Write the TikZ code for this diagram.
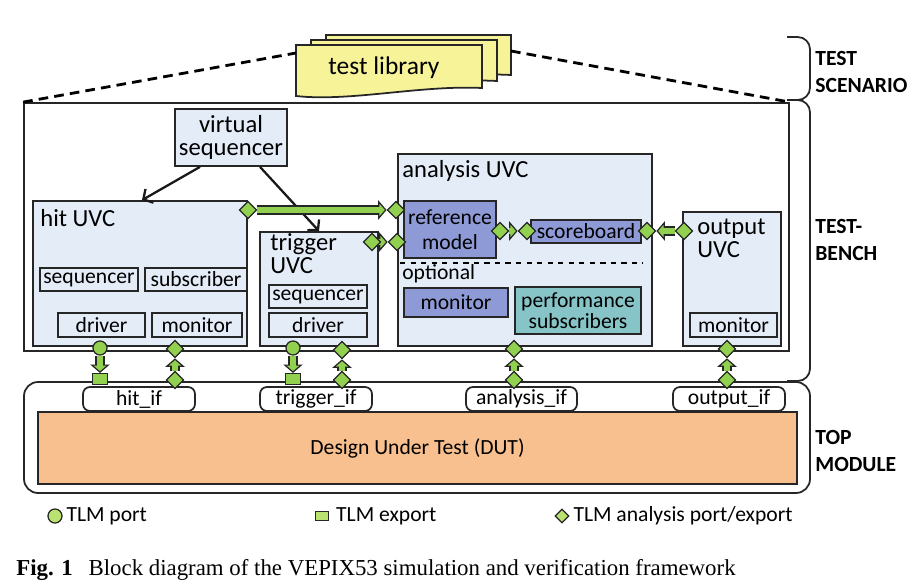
\documentclass[tikz,border=0pt]{standalone}
\usepackage{fontspec}
\setmainfont{Carlito}
\newfontfamily\capfont{Liberation Serif}
\usetikzlibrary{arrows.meta, positioning, shapes.geometric, fit, calc}
\definecolor{boxedge}{RGB}{38,38,38}
\definecolor{uvcblue}{RGB}{228,236,247}
\definecolor{refblue}{RGB}{142,154,214}
\definecolor{perfteal}{RGB}{134,196,200}
\definecolor{tlmgreen}{RGB}{146,208,80}
\definecolor{keygreen}{RGB}{186,226,112}
\definecolor{libyellow}{RGB}{247,243,152}
\definecolor{dutorange}{RGB}{248,192,142}
\pgfdeclarelayer{ports}
\pgfsetlayers{main,ports}
\newcommand{\fbig}{\fontsize{14}{13}\selectfont}
\newcommand{\fsmall}{\fontsize{12.3}{13.5}\selectfont}

\begin{document}
\begin{tikzpicture}[
  x=0.02cm, y=-0.02cm,
  uvc/.style={draw=boxedge, fill=uvcblue, line width=1pt, inner sep=0pt},
  part/.style={uvc},
  txt/.style={font=\fsmall, align=center, inner sep=0pt},
  title/.style={anchor=west, inner sep=0pt, font=\fbig, align=left},
  ifbox/.style={draw=boxedge, fill=white, line width=1pt, rounded corners=4pt, inner sep=0pt},
  libdoc/.style={draw=boxedge, fill=libyellow, line width=1pt},
  ctrl/.style={-{Straight Barb[length=4pt,width=9pt]}, line width=1.3pt, draw=black!90},
  tlm/.style={draw=tlmgreen, line width=3.8pt, shorten >=4pt,
              preaction={draw=boxedge, line width=5.3pt, shorten >=0pt,
                         -{Triangle[length=4.8pt,width=11pt,fill=tlmgreen,line width=0.7pt]}}},
  aport/.style={diamond, draw=boxedge, fill=tlmgreen, line width=0.7pt,
                minimum size=10pt, inner sep=0pt},
  port/.style={circle, draw=boxedge, fill=tlmgreen, line width=0.7pt,
               minimum size=8pt, inner sep=0pt},
  export/.style={rectangle, draw=boxedge, fill=tlmgreen, line width=0.7pt,
                 minimum width=8.5pt, minimum height=6.2pt, inner sep=0pt},
  side/.style={anchor=west, inner sep=0pt, align=left,
               font=\bfseries\fontsize{12.3}{15.3}\selectfont},
  bracket/.style={draw=boxedge, line width=1pt, rounded corners=7pt}
]
\useasboundingbox (0,0) rectangle (918,584);

% test scenario
\draw[libdoc] (326,35) -- (511,35) -- (511,75) .. controls (460,72) and (400,86) .. (326,82) -- cycle;
\draw[libdoc] (311,40) -- (497,40) -- (497,81) .. controls (446,78) and (386,92) .. (311,88) -- cycle;
\draw[libdoc] (296,45) -- (482,45) -- (482,88) .. controls (420,85) and (350,102) .. (296,96) -- cycle;
\node[font=\fontsize{14.5}{16}\selectfont] (testlib) at (384,68) {test library};
\coordinate (libL) at (296,53);
\coordinate (libR) at (511,51);

% testbench
\node[draw=boxedge, line width=1pt, inner sep=0pt, fit={(24,103) (789,351)}] (tb) {};
\draw[dash pattern=on 5.5pt off 3.5pt, line width=1.6pt] (tb.north west) -- (libL);
\draw[dash pattern=on 5.5pt off 3.5pt, line width=1.6pt] (libR) -- (tb.north east);

\node[uvc, fit={(175,109) (287,166)},
      label={[txt, font=\fbig]center:virtual\\sequencer}] (vseq) {};

% hit UVC
\node[uvc, fit={(33,201) (247,346)}] (hit) {};
\node[title] at (40,218) {hit UVC};
\node[part, fit={(40,268) (138,291)}, label={[txt]center:sequencer}] (hitseq) {};
\node[part, fit={(145,268) (247,291)}, label={[txt]center:subscriber}] (hitsub) {};
\node[part, fit={(58,313) (145,337)}, label={[txt]center:driver}] (hitdrv) {};
\node[part, fit={(152,313) (242,337)}, label={[txt]center:monitor}] (hitmon) {};

% trigger UVC
\node[uvc, fit={(260,232) (378,346)}] (trig) {};
\node[title] at (270,254) {trigger\\UVC};
\node[part, fit={(269,285) (367,308)}, label={[txt]center:sequencer}] (trigseq) {};
\node[part, fit={(269,313) (367,337)}, label={[txt]center:driver}] (trigdrv) {};

% analysis UVC
\node[uvc, fit={(398,154) (652,346)}] (ana) {};
\node[title] at (402,171) {analysis UVC};
\node[part, fill=refblue, fit={(404,201) (496,258)},
      label={[txt, font=\fontsize{12.3}{14.5}\selectfont]center:reference\\model}] (refm) {};
\node[part, fill=refblue, fit={(531,220) (641,243)}, label={[txt]center:scoreboard}] (score) {};
\draw[dashed, line width=0.8pt] (400,263) -- (643,263);
\node[title, font=\fsmall] at (402,274) {optional};
\node[part, fill=refblue, fit={(404,288) (508,317)}, label={[txt]center:monitor}] (anamon) {};
\node[part, fill=perfteal, fit={(515,287) (641,334)},
      label={[txt, font=\fontsize{12.3}{12.3}\selectfont]center:performance\\subscribers}] (perf) {};

% output UVC
\node[uvc, fit={(683,212) (781,346)}] (outp) {};
\node[title] at (697,238) {output\\UVC};
\node[part, fit={(690,313) (777,337)}, label={[txt]center:monitor}] (outmon) {};

% top module
\node[draw=boxedge, line width=1pt, rounded corners=8pt, inner sep=0pt, fit={(24,382) (810,493)}] (top) {};
\node[draw=boxedge, fill=dutorange, line width=1pt, inner sep=0pt, fit={(38,412) (797,484)},
      label={[txt]center:Design Under Test (DUT)}] (dut) {};
\node[ifbox, fit={(83,387) (195,411)}, label={[txt]center:hit\_if}] (hitif) {};
\node[ifbox, fit={(260,387) (372,411)}, label={[txt]center:trigger\_if}] (trigif) {};
\node[ifbox, fit={(466,387) (577,411)}, label={[txt]center:analysis\_if}] (anaif) {};
\node[ifbox, fit={(673,387) (785,411)}, label={[txt]center:output\_if}] (outif) {};

% brackets and side labels
\draw[bracket] (787,37) -- (810,37) -- (810,100) -- (787,100);
\draw[bracket] (787,100) -- (810,100) -- (810,381) -- (787,381);
\node[side] at (815,72) {TEST\\SCENARIO};
\node[side] at (815,240) {TEST-\\BENCH};
\node[side] at (815,451) {TOP\\MODULE};

% ports
\begin{pgfonlayer}{ports}
\node[aport] (hitap) at (248,210) {};
\node[aport] (refap) at (396,210) {};
\node[aport] (trigap) at (372,242) {};
\node[aport] (refap2) at (397,242) {};
\node[aport] (refout) at (500,231) {};
\node[aport] (scorein) at (527,231) {};
\node[aport] (scorein2) at (647,231) {};
\node[aport] (outap) at (684,231) {};
\node[port] (hitdrvp) at (100,348) {};
\node[export] (hitifex) at (100,379) {};
\node[aport] (hitmonap) at (175,349) {};
\node[aport] (hitifap) at (175,380) {};
\node[port] (trigdrvp) at (293,348) {};
\node[export] (trigifex) at (293,379) {};
\node[aport] (trigmonap) at (342,350) {};
\node[aport] (trigifap) at (342,380) {};
\node[aport] (anaap) at (514,349) {};
\node[aport] (anaifap) at (514,380) {};
\node[aport] (outmonap) at (727,349) {};
\node[aport] (outifap) at (727,380) {};
\end{pgfonlayer}

% control arrows
\draw[ctrl] ([shift={(-31,0)}]vseq.south) -- ([shift={(2,0)}]hit.north);
\draw[ctrl] ([shift={(29,0)}]vseq.south) -- (trig.north);

% TLM connections
\draw[tlm] (hitap) -- (refap);
\draw[tlm] (trigap.center) -- (refap2);
\draw[tlm] (refout) -- (scorein);
\draw[tlm] (outap) -- (scorein2);
\draw[tlm] (hitdrvp) -- (hitifex);
\draw[tlm] (hitifap) -- (hitmonap);
\draw[tlm] (trigdrvp) -- (trigifex);
\draw[tlm] (trigifap) -- (trigmonap);
\draw[tlm] (anaifap) -- (anaap);
\draw[tlm] (outifap) -- (outmonap);

% legend
\node[port, fill=keygreen] (keyport) at (55,516) {};
\node[anchor=west, inner sep=0pt, font=\fsmall, right=2pt of keyport] (keyporttxt) {TLM port};
\node[export, fill=keygreen, minimum width=7pt, minimum height=5pt] (keyexp) at (322,516) {};
\node[anchor=west, inner sep=0pt, font=\fsmall, right=4pt of keyexp] (keyexptxt) {TLM export};
\node[aport, fill=keygreen, minimum size=8pt] (keyap) at (562,516) {};
\node[anchor=west, inner sep=0pt, font=\fsmall, right=2pt of keyap] (keyaptxt) {TLM analysis port/export};

% caption
\node[anchor=base west, inner sep=0pt, font=\capfont\fontsize{13}{15}\selectfont] (caption) at (16,575)
  {\textbf{Fig. 1}\hspace{9pt}Block diagram of the VEPIX53 simulation and verification framework};
\end{tikzpicture}
\end{document}
